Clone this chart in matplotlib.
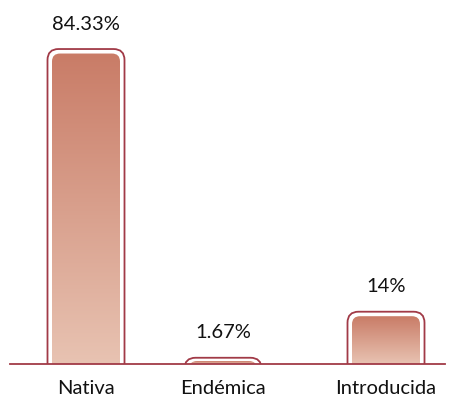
import matplotlib
matplotlib.use("Agg")
import matplotlib.pyplot as plt
from matplotlib.patches import FancyBboxPatch, Rectangle
from matplotlib.colors import LinearSegmentedColormap
import numpy as np

# data
categories = ["Nativa", "Endémica", "Introducida"]
values = [84.33, 1.67, 14]

# layout (pixel units on x)
x_centers = [86, 223, 386]
bar_w = 77
inset = 4.5
px_per_pct = 3.735
base_px = 37  # baseline height above figure bottom

W, H = 453, 402
fig = plt.figure(figsize=(W / 100, H / 100), dpi=100)
ax = fig.add_axes([0, 0, 1, 1])
ax.set_xlim(0, W)
ax.set_ylim(-base_px / px_per_pct, (H - base_px) / px_per_pct)
ax.axis("off")

aspect = 1 / px_per_pct
grad = LinearSegmentedColormap.from_list("bar", ["#e8c3b2", "#c97c67"])
edge = "#a13a47"
font = "Lato"

clip_above = Rectangle((0, 0), W, 200, transform=ax.transData)

for cx, v, name in zip(x_centers, values, categories):
    # outer outline
    outer = FancyBboxPatch((cx - bar_w / 2, -5), bar_w, v + 5,
                           boxstyle="round,pad=0,rounding_size=11",
                           mutation_aspect=aspect,
                           fc="none", ec=edge, lw=1.3, zorder=2)
    ax.add_patch(outer)
    outer.set_clip_path(clip_above)

    # inner gradient fill
    top = max(v - inset / px_per_pct, 0.8)
    iw = bar_w - 2 * inset
    inner = FancyBboxPatch((cx - iw / 2, -5), iw, top + 5,
                           boxstyle="round,pad=0,rounding_size=8",
                           mutation_aspect=aspect,
                           fc="none", ec="none", zorder=1)
    ax.add_patch(inner)
    g = np.linspace(0, 1, 256).reshape(-1, 1)
    im = ax.imshow(g, cmap=grad, origin="lower", aspect="auto",
                   extent=(cx - iw / 2, cx + iw / 2, 0, top),
                   interpolation="bilinear", zorder=1)
    im.set_clip_path(inner)

    ax.text(cx, v + 26 / px_per_pct, f"{v:g}%", ha="center", va="center",
            fontsize=14.5, family=font, color="#111111")
    ax.text(cx, -24 / px_per_pct, name, ha="center", va="center",
            fontsize=14.5, family=font, color="#111111")

ax.plot([10, 445], [0, 0], color=edge, lw=1.3, zorder=3)

fig.savefig("out.png", dpi=100)
